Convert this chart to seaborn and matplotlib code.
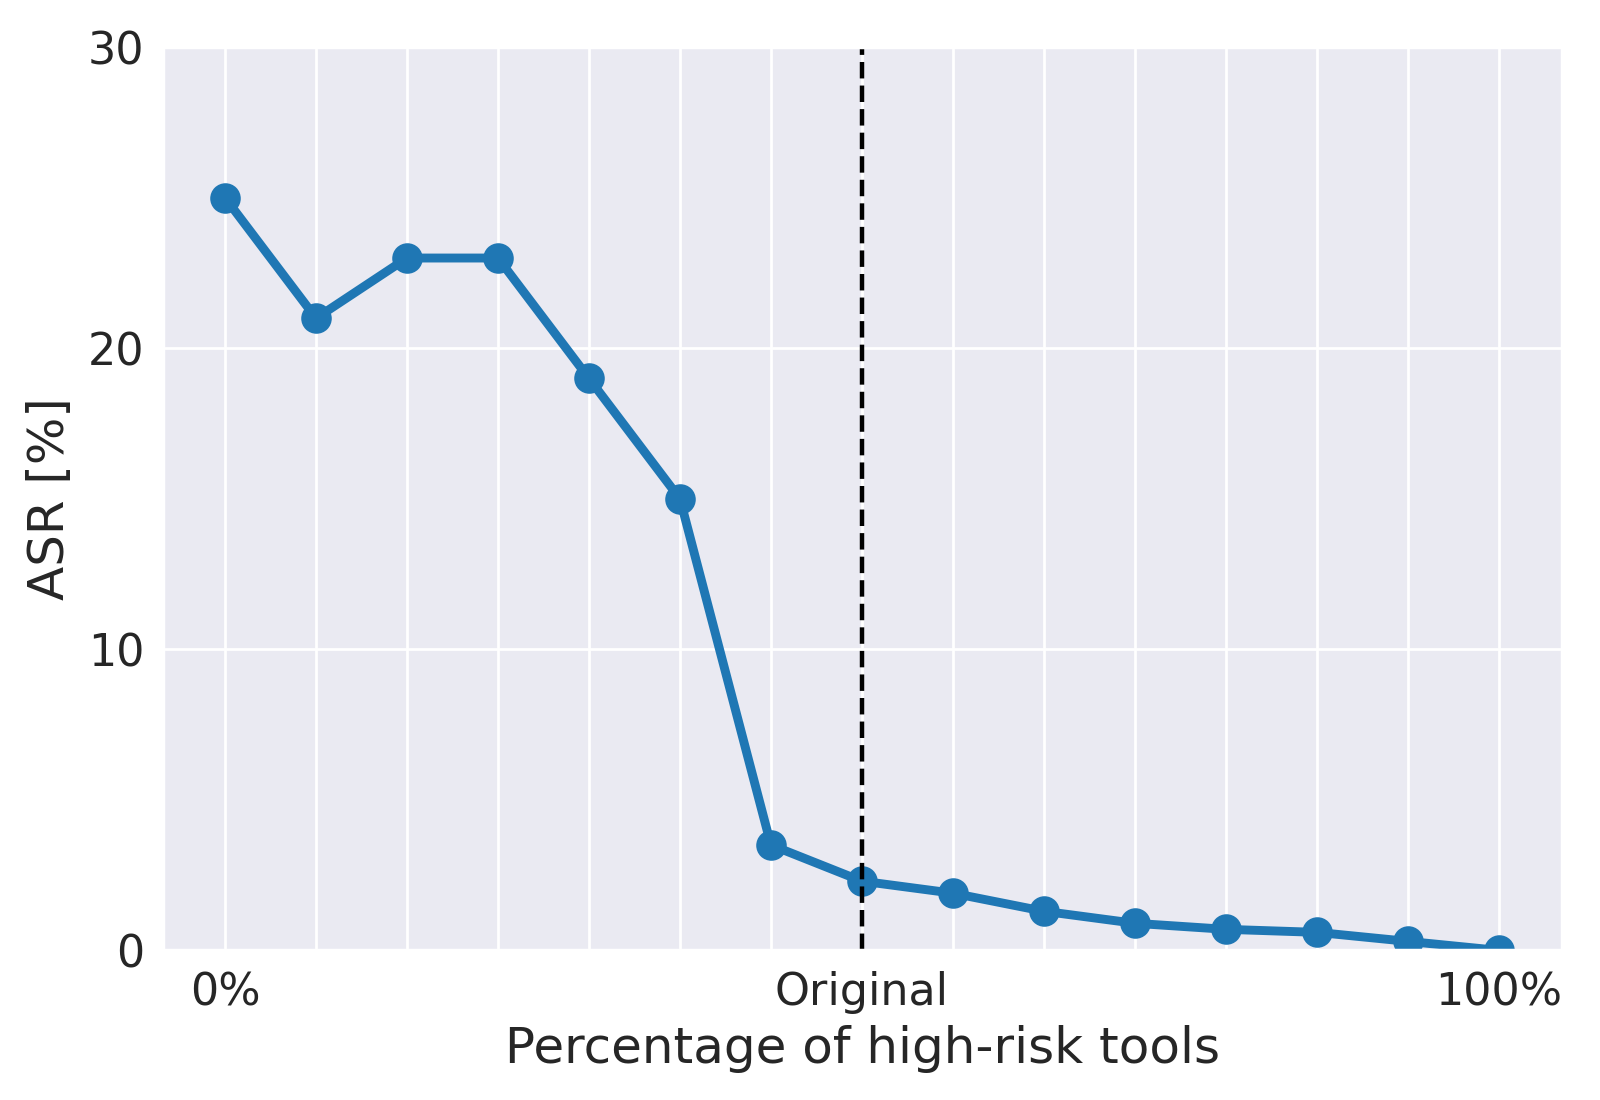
import matplotlib
matplotlib.use("Agg")
import matplotlib.pyplot as plt
import seaborn as sns
import pandas as pd

steps = list(range(15))
asr = [25.0, 21.0, 23.0, 23.0, 19.0, 15.0, 3.5, 2.3, 1.9, 1.3, 0.9, 0.7, 0.6, 0.3, 0.0]
tick_labels = ["0%"] + [""] * 6 + ["Original"] + [""] * 6 + ["100%"]
original_idx = 7

sns.set_theme(style="darkgrid")
plt.rcParams['font.family'] = ['DejaVu Sans']

fig, ax = plt.subplots(figsize=(8, 5.5), dpi=200)
fig.subplots_adjust(left=0.102, right=0.976, top=0.957, bottom=0.136)

df = pd.DataFrame({"step": steps, "asr": asr})
sns.lineplot(data=df, x="step", y="asr", ax=ax, color="#1f77b4", linewidth=3.2,
             marker="o", markersize=11, markeredgewidth=0)
ax.axvline(original_idx, color="black", linestyle="--", linewidth=1.6)

ax.set_xticks(steps)
ax.set_xticklabels(tick_labels, fontsize=16)
ax.set_xlim(-0.68, 14.69)
ax.set_ylim(0, 30)
ax.set_yticks([0, 10, 20, 30])
ax.tick_params(axis="y", labelsize=16, pad=0.8)
ax.tick_params(axis="x", pad=1.5)
ax.set_xlabel("Percentage of high-risk tools", fontsize=18, labelpad=4)
ax.set_ylabel("ASR [%]", fontsize=18, labelpad=5)

fig.savefig("out.png", dpi=200)
